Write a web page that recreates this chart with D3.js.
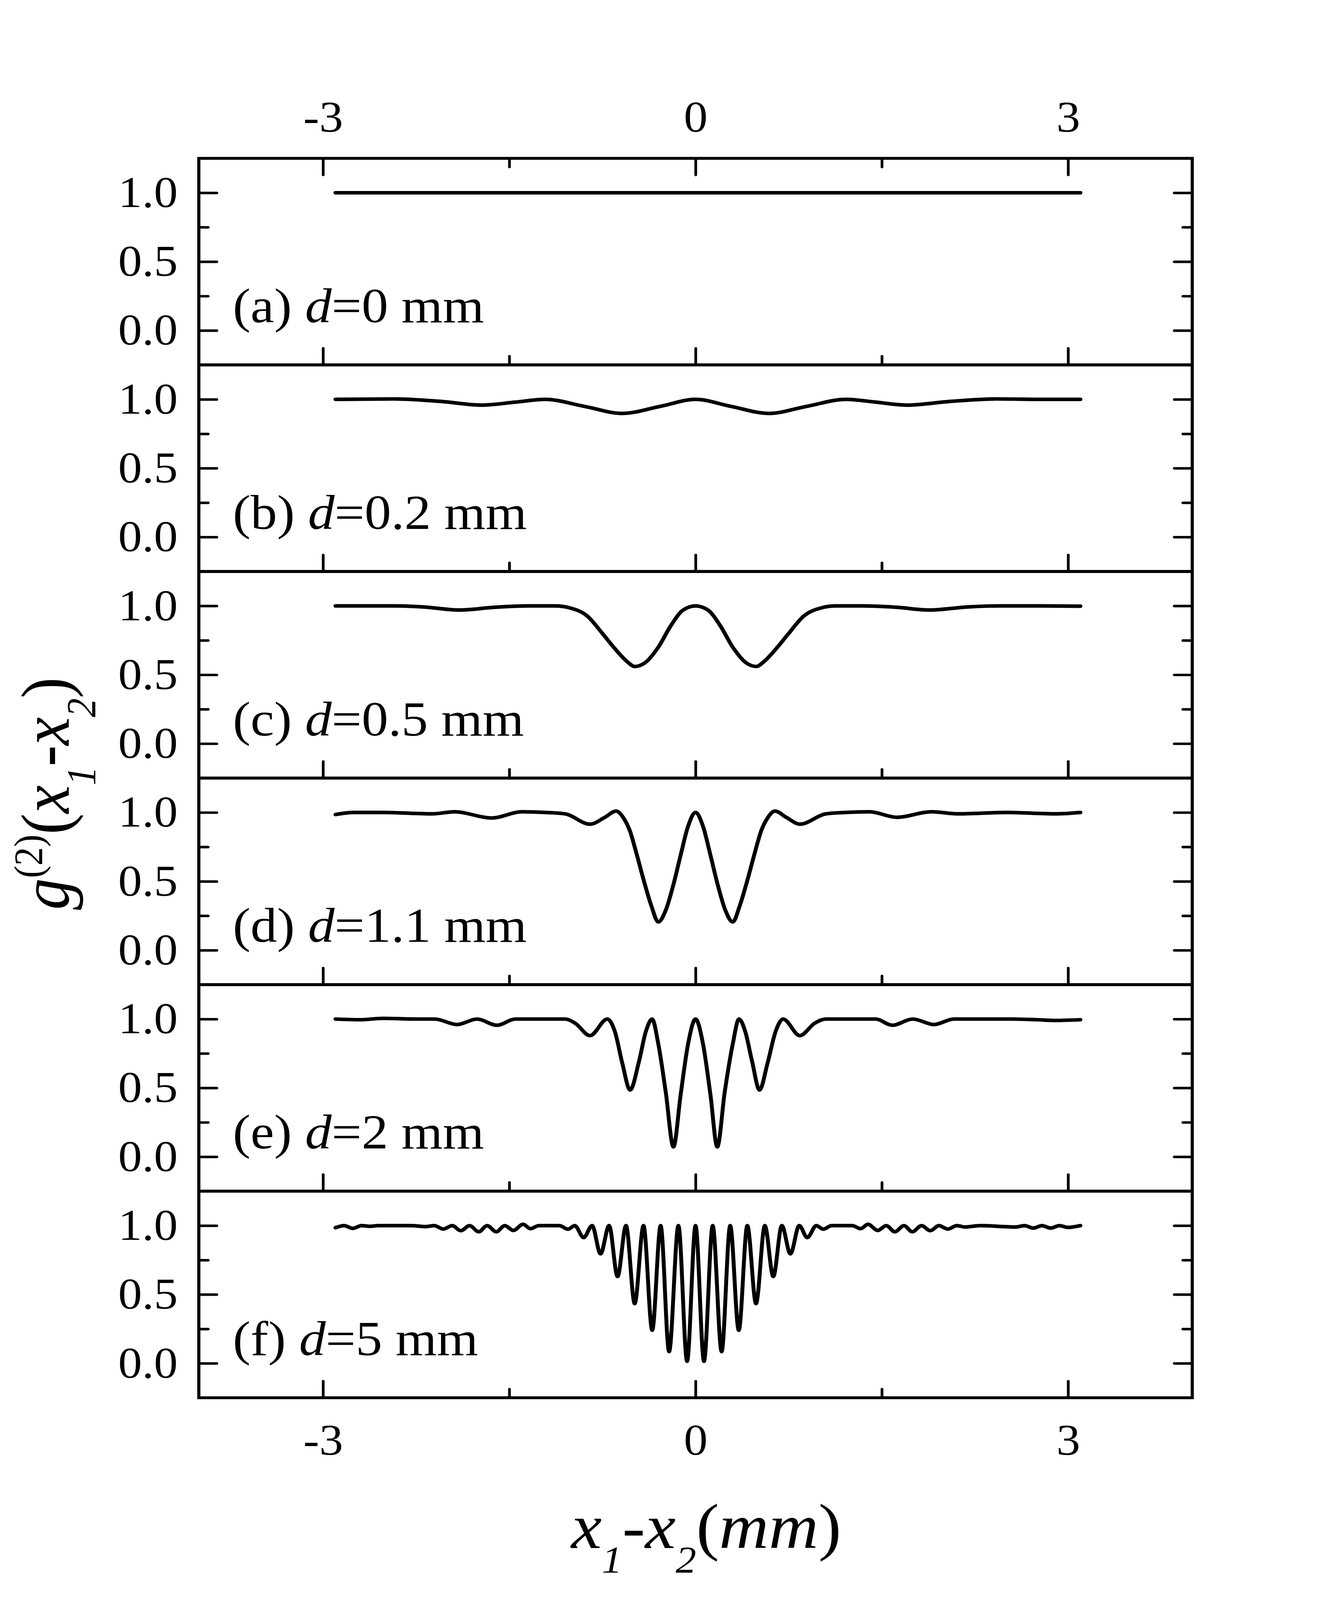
<!DOCTYPE html>
<html>
<head>
<meta charset="utf-8">
<script src="https://cdn.jsdelivr.net/npm/d3@7"></script>
<style>
  html, body { margin: 0; padding: 0; background: #ffffff; overflow: hidden; width: 100%; height: 100%; }
  #chart { display: block; width: 100vw; height: 100vh; }
  text { font-family: "Liberation Serif", "Times New Roman", serif; fill: #000; white-space: pre; }
</style>
</head>
<body>
<svg id="chart" viewBox="0 0 3420 4446" preserveAspectRatio="none" xmlns="http://www.w3.org/2000/svg"></svg>
<script>
// ---------------- data ----------------
const panelLetters = ["(a)", "(b)", "(c)", "(d)", "(e)", "(f)"];
const panelD = ["0", "0.2", "0.5", "1.1", "2", "5"];
const xMajorTicks = [-3, 0, 3];
const xMinorTicks = [-1.5, 1.5];
const yMajorTicks = [0, 0.5, 1.0];
const yMinorTicks = [0.25, 0.75];

// [x1-x2 (mm), g2]
const seriesA = [[-2.9,1.0],[-1.5,1.0],[0,1.0],[1.5,1.0],[3.1,1.0]];

const seriesB = [[-2.9,1.0],[-2.42,1.003],[-2.05,0.985],[-1.72,0.958],[-1.45,0.98],[-1.21,1.0],
  [-0.9,0.95],[-0.59,0.898],[-0.28,0.95],[0,1.0],[0.28,0.95],[0.59,0.898],[0.9,0.95],[1.21,1.0],
  [1.45,0.98],[1.7,0.958],[2.05,0.985],[2.42,1.003],[2.8,1.0],[3.1,1.0]];

const seriesC = [[-2.9,1.0],[-2.44,1.0],[-2.2,0.993],[-1.9,0.97],[-1.62,0.99],[-1.35,1.0],[-1.13,1.0],
  [-1.01,0.985],[-0.87,0.925],[-0.75,0.80],[-0.65,0.69],[-0.55,0.595],[-0.49,0.56],[-0.41,0.585],
  [-0.30,0.70],[-0.20,0.855],[-0.10,0.97],[0,1.0],[0.10,0.97],[0.20,0.855],[0.30,0.70],[0.41,0.585],
  [0.49,0.56],[0.55,0.595],[0.65,0.69],[0.75,0.80],[0.87,0.925],[1.01,0.985],[1.13,1.0],[1.35,1.0],
  [1.62,0.99],[1.88,0.97],[2.2,0.993],[2.44,1.0],[2.8,1.0],[3.1,0.998]];

const seriesD = [[-2.9,0.985],[-2.75,1.0],[-2.52,1.0],[-2.12,0.99],[-1.94,1.005],[-1.64,0.96],[-1.4,1.005],
  [-1.21,1.0],[-1.05,0.99],[-0.85,0.915],[-0.73,0.965],[-0.64,1.01],[-0.58,0.96],[-0.53,0.87],[-0.475,0.70],
  [-0.415,0.50],[-0.355,0.32],[-0.30,0.205],[-0.24,0.29],[-0.18,0.47],[-0.12,0.69],[-0.06,0.9],[0,1.0],
  [0.06,0.9],[0.12,0.69],[0.18,0.47],[0.24,0.29],[0.30,0.205],[0.355,0.32],[0.415,0.50],[0.475,0.70],
  [0.53,0.87],[0.58,0.96],[0.64,1.01],[0.73,0.965],[0.84,0.915],[1.05,0.99],[1.21,1.0],[1.4,1.005],
  [1.62,0.965],[1.9,1.005],[2.12,0.99],[2.5,1.0],[2.9,0.99],[3.1,1.0]];

const seriesE = [[-2.9,1.0],[-2.7,0.995],[-2.52,1.005],[-2.24,1.0],[-2.1,1.0],[-1.92,0.96],[-1.76,1.0],
  [-1.60,0.955],[-1.45,1.0],[-1.2,1.0],[-1.05,1.0],[-0.97,0.97],[-0.85,0.88],[-0.71,1.0],[-0.65,0.91],
  [-0.59,0.68],[-0.527,0.485],[-0.456,0.69],[-0.40,0.91],[-0.35,1.0],[-0.30,0.82],[-0.24,0.47],
  [-0.178,0.072],[-0.12,0.45],[-0.06,0.82],[0,1.0],[0.06,0.82],[0.12,0.45],[0.175,0.072],[0.235,0.47],
  [0.30,0.82],[0.35,1.0],[0.40,0.91],[0.456,0.69],[0.515,0.485],[0.58,0.68],[0.645,0.91],[0.705,1.0],
  [0.84,0.88],[0.96,0.97],[1.05,1.0],[1.45,1.0],[1.585,0.955],[1.75,1.0],[1.92,0.96],[2.08,1.0],
  [2.3,1.0],[2.55,1.0],[2.75,0.995],[2.9,0.99],[3.1,0.995]];

const seriesF = [[-2.9,0.985],[-2.83,1.0],[-2.76,0.98],[-2.69,1.0],[-2.62,0.995],[-2.56,1.0],[-2.29,1.0],
  [-2.17,0.993],[-2.105,1.0],[-2.03,0.975],[-1.96,1.0],[-1.89,0.963],[-1.82,1.0],[-1.746,0.955],
  [-1.678,1.0],[-1.605,0.955],[-1.536,1.0],[-1.467,0.965],[-1.389,1.01],[-1.33,0.978],[-1.262,1.0],
  [-1.096,1.0],[-1.028,0.974],[-0.973,1.0],[-0.901,0.913],[-0.833,1.0],[-0.765,0.795],[-0.696,1.0],
  [-0.628,0.63],[-0.56,1.0],[-0.49,0.434],[-0.419,1.0],[-0.349,0.24],[-0.281,1.0],[-0.213,0.085],
  [-0.138,1.0],[-0.068,0.015],[0,1.0],[0.068,0.015],[0.138,1.0],[0.21,0.085],[0.279,1.0],[0.348,0.24],
  [0.417,1.0],[0.487,0.434],[0.558,1.0],[0.626,0.63],[0.695,1.0],[0.764,0.795],[0.835,1.0],[0.9,0.913],
  [0.972,1.0],[1.029,0.974],[1.096,1.0],[1.262,1.0],[1.33,0.978],[1.389,1.01],[1.467,0.965],[1.536,1.0],
  [1.605,0.955],[1.678,1.0],[1.746,0.955],[1.82,1.0],[1.89,0.963],[1.96,1.0],[2.03,0.975],[2.105,1.0],
  [2.17,0.99],[2.29,1.0],[2.58,0.99],[2.65,1.0],[2.72,0.982],[2.79,1.0],[2.86,0.982],[2.93,1.0],
  [3.0,0.987],[3.1,1.0]];

const allSeries = [seriesA, seriesB, seriesC, seriesD, seriesE, seriesF];

// ---------------- layout ----------------
const W = 3420, H = 4446;
const plotLeft = 509, plotRight = 3052, plotTop = 440, panelH = 574;
const nPanels = allSeries.length;
const plotBottom = plotTop + nPanels * panelH;
const majorLen = 46, minorLen = 24;
const tickFont = 122, labelFont = 136, titleFont = 176;

const svg = d3.select("#chart");
svg.append("rect").attr("width", W).attr("height", H).attr("fill", "#fff");

const x = d3.scaleLinear().domain([-4, 4]).range([plotLeft, plotRight]);

const line = d3.line().curve(d3.curveMonotoneX);

function styleAxis(g) {
  g.select(".domain").remove();
  g.selectAll(".tick line").attr("stroke", "#000").attr("stroke-width", 7).attr("stroke-linecap", "round");
  g.selectAll("text").style("font-family", '"Liberation Serif", "Times New Roman", serif')
    .style("font-size", tickFont + "px").attr("fill", "#000");
}

allSeries.forEach((series, i) => {
  const pTop = plotTop + i * panelH;
  const pBot = pTop + panelH;
  const y = d3.scaleLinear().domain([-0.25, 1.25]).range([pBot, pTop]);
  const g = svg.append("g");

  g.append("g").attr("transform", `translate(${plotLeft},0)`)
    .call(d3.axisLeft(y).tickValues(yMajorTicks).tickSize(-majorLen).tickPadding(54)
      .tickFormat(d3.format(".1f")))
    .call(styleAxis);
  g.append("g").attr("transform", `translate(${plotLeft},0)`)
    .call(d3.axisLeft(y).tickValues(yMinorTicks).tickSize(-minorLen).tickFormat(""))
    .call(styleAxis);
  g.append("g").attr("transform", `translate(${plotRight},0)`)
    .call(d3.axisRight(y).tickValues(yMajorTicks).tickSize(-majorLen).tickFormat(""))
    .call(styleAxis);
  g.append("g").attr("transform", `translate(${plotRight},0)`)
    .call(d3.axisRight(y).tickValues(yMinorTicks).tickSize(-minorLen).tickFormat(""))
    .call(styleAxis);

  const isLast = i === nPanels - 1;
  const bx = g.append("g").attr("transform", `translate(0,${pBot})`)
    .call(d3.axisBottom(x).tickValues(xMajorTicks).tickSize(-majorLen)
      .tickFormat(isLast ? (d => String(d)) : ""))
    .call(styleAxis);
  if (isLast) bx.selectAll("text").attr("y", 158).attr("dy", 0);
  g.append("g").attr("transform", `translate(0,${pBot})`)
    .call(d3.axisBottom(x).tickValues(xMinorTicks).tickSize(-minorLen).tickFormat(""))
    .call(styleAxis);

  if (i === 0) {
    const tx = g.append("g").attr("transform", `translate(0,${pTop})`)
      .call(d3.axisTop(x).tickValues(xMajorTicks).tickSize(-majorLen).tickFormat(d => String(d)))
      .call(styleAxis);
    tx.selectAll("text").attr("y", -74).attr("dy", 0);
    g.append("g").attr("transform", `translate(0,${pTop})`)
      .call(d3.axisTop(x).tickValues(xMinorTicks).tickSize(-minorLen).tickFormat(""))
      .call(styleAxis);
  }

  g.append("rect").attr("x", plotLeft).attr("y", pTop).attr("width", plotRight - plotLeft).attr("height", panelH)
    .attr("fill", "none").attr("stroke", "#000").attr("stroke-width", 8);

  g.append("path")
    .attr("d", line(series.map(d => [x(d[0]), y(d[1])])))
    .attr("fill", "none").attr("stroke", "#000").attr("stroke-width", 10)
    .attr("stroke-linecap", "round").attr("stroke-linejoin", "round");

  const lab = g.append("text").attr("x", plotLeft + 87).attr("y", y(0.06))
    .style("font-size", labelFont + "px");
  lab.append("tspan").text(panelLetters[i] + " ");
  lab.append("tspan").style("font-style", "italic").text("d");
  lab.append("tspan").text("=" + panelD[i] + " mm");
});

// x-axis title: x1-x2(mm)
const xt = svg.append("text").attr("x", 1808).attr("y", plotBottom + 418)
  .attr("text-anchor", "middle").style("font-size", titleFont + "px");
xt.append("tspan").style("font-style", "italic").text("x");
xt.append("tspan").style("font-style", "italic").style("font-size", "105px").attr("dy", 68).text("1");
xt.append("tspan").attr("dy", -68).text("-");
xt.append("tspan").style("font-style", "italic").text("x");
xt.append("tspan").style("font-style", "italic").style("font-size", "105px").attr("dy", 68).text("2");
xt.append("tspan").attr("dy", -68).text("(");
xt.append("tspan").style("font-style", "italic").text("mm");
xt.append("tspan").text(")");

// y-axis title: g(2)(x1-x2)
const yt = svg.append("text").attr("transform", "translate(176,2205) rotate(-90)")
  .attr("text-anchor", "middle").style("font-size", titleFont + "px");
yt.append("tspan").style("font-style", "italic").text("g");
yt.append("tspan").style("font-size", "104px").attr("dy", -68).text("(2)");
yt.append("tspan").attr("dy", 68).text("(");
yt.append("tspan").style("font-style", "italic").text("x");
yt.append("tspan").style("font-style", "italic").style("font-size", "105px").attr("dy", 68).text("1");
yt.append("tspan").attr("dy", -68).text("-");
yt.append("tspan").style("font-style", "italic").text("x");
yt.append("tspan").style("font-style", "italic").style("font-size", "105px").attr("dy", 68).text("2");
yt.append("tspan").attr("dy", -68).text(")");
</script>
</body>
</html>
